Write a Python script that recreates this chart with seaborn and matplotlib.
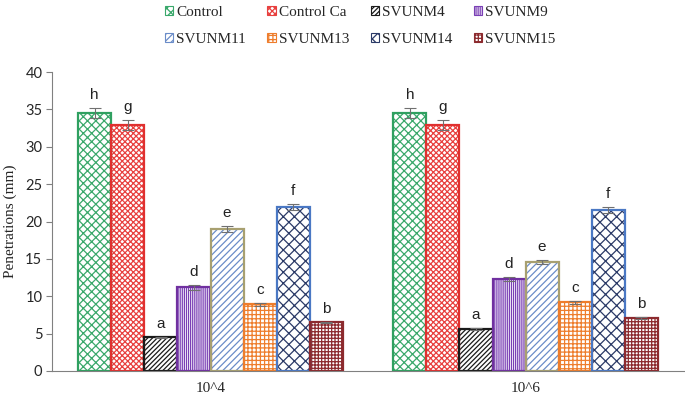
import pandas as pd
import matplotlib.pyplot as plt
import seaborn as sns
from matplotlib.patches import Patch, Rectangle

# Datos
dosis = ['10^4', '10^6']
tratamientos = ['Control', 'Control Ca', 'SVUNM4', 'SVUNM9',
                'SVUNM11', 'SVUNM13', 'SVUNM14', 'SVUNM15']
media_1e4 = [34.5, 32.9, 4.5, 11.2, 19.0, 8.9, 22.0, 6.5]
media_1e6 = [34.5, 32.9, 5.6, 12.3, 14.6, 9.2, 21.6, 7.1]
error_1e4 = [0.7, 0.7, 0.1, 0.3, 0.4, 0.2, 0.4, 0.1]
error_1e6 = [0.7, 0.7, 0.1, 0.3, 0.3, 0.2, 0.4, 0.1]
letras = ['h', 'g', 'a', 'd', 'e', 'c', 'f', 'b']

# Estilo de cada tratamiento: trama, borde
colores_trama = ['#3aa86b', '#e8403f', '#1a1a1a', '#7a3fb5',
                 '#6a8cc8', '#ee7d2c', '#2b3a67', '#8c2a2e']
colores_borde = ['#2fa060', '#e0302f', '#1a1a1a', '#7030a0',
                 '#a8a070', '#ee7d2c', '#4a78c4', '#8c2a2e']
tramas = ['xxxx', 'xxxxxx', '///////', '||||||||', '/////',
          '++++', 'xxx', '+++++']

datos = pd.DataFrame({
    'Dosis': [d for d in dosis for _ in tratamientos],
    'Tratamiento': tratamientos * 2,
    'Media': media_1e4 + media_1e6,
    'Error': error_1e4 + error_1e6,
})

sns.set_style('white')
plt.rcParams['hatch.linewidth'] = 0.9

fig = plt.figure(figsize=(6.85, 4.0), dpi=100)
ax = fig.add_axes([0.076, 0.0725, 0.924, 0.7475])

sns.barplot(data=datos, x='Dosis', y='Media', hue='Tratamiento',
            order=dosis, hue_order=tratamientos, width=0.84,
            errorbar=None, legend=False, ax=ax, saturation=1)

contenedores = list(ax.containers)
for i, cont in enumerate(contenedores):
    sub = datos[datos['Tratamiento'] == tratamientos[i]]
    for barra, err in zip(cont, sub['Error']):
        barra.set_facecolor('white')
        barra.set_edgecolor(colores_trama[i])
        barra.set_hatch(tramas[i])
        barra.set_linewidth(0)
        ax.add_patch(Rectangle(barra.get_xy(), barra.get_width(), barra.get_height(),
                               fill=False, edgecolor=colores_borde[i], linewidth=1.6))
        cx = barra.get_x() + barra.get_width() / 2
        top = barra.get_height()
        ax.errorbar(cx, top, yerr=err, color='#707070', capsize=4,
                    elinewidth=0.8, capthick=0.8)
        ax.text(cx, top + err + 0.8, letras[i], ha='center', va='bottom',
                fontsize=11, family='Liberation Sans', color='#222222')

ax.set_ylim(0, 40)
ax.set_xlim(-0.503, 1.506)
ax.set_yticks(range(0, 41, 5))
ax.set_ylabel('Penetrations (mm)', family='Liberation Serif', fontsize=11, labelpad=6)
ax.set_xlabel('')
ax.tick_params(axis='y', labelsize=10.5, length=4, left=True, color='#808080', pad=3)
ax.tick_params(axis='x', labelsize=11, length=0, pad=8)
for t in ax.get_yticklabels():
    t.set_family('Lato')
for t in ax.get_xticklabels():
    t.set_family('Liberation Serif')

for s in ['top', 'right']:
    ax.spines[s].set_visible(False)
ax.spines['left'].set_color('#808080')
ax.spines['bottom'].set_color('#808080')

handles = [Patch(facecolor='white', edgecolor=colores_trama[i], hatch=tramas[i],
                 linewidth=0.8, label=tratamientos[i]) for i in range(len(tratamientos))]
# orden por filas (la leyenda se llena por columnas)
orden = [0, 4, 1, 5, 2, 6, 3, 7]
fig.legend(handles=[handles[k] for k in orden], loc='upper center',
           bbox_to_anchor=(0.526, 1.02), ncol=4,
           frameon=False, prop={'family': 'Liberation Serif', 'size': 11},
           handlelength=0.55, handleheight=0.55, handletextpad=0.2,
           columnspacing=1.4, labelspacing=0.95)

fig.savefig('out.png', dpi=100)
